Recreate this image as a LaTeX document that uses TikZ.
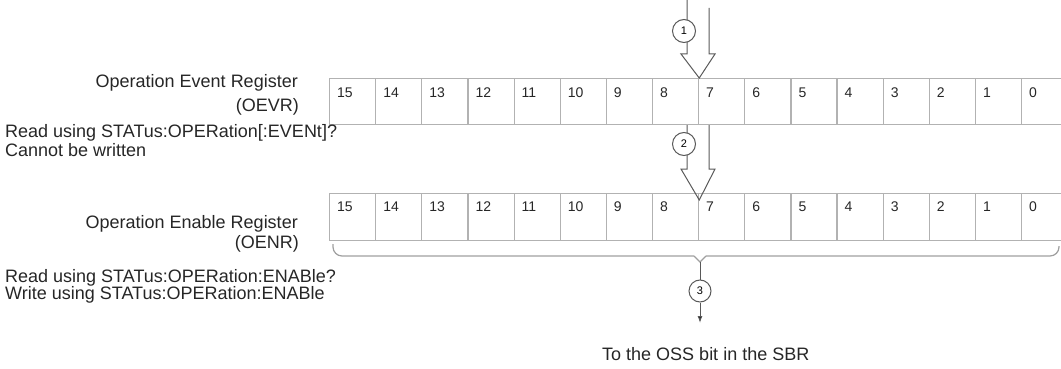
\documentclass[tikz,border=0pt]{standalone}
\usepackage{fontspec}
\setmainfont{Liberation Sans}
\usetikzlibrary{positioning,arrows.meta}

\begin{document}
\begin{tikzpicture}[x=1pt,y=-1pt,
  bitcell/.style={draw=gray!60,line width=1.2pt,minimum width=46.13pt,minimum height=46pt,inner sep=0pt,anchor=north west},
  bitnum/.style={inner sep=0pt,anchor=base west,text=black!85,font=\fontsize{14}{16}\selectfont},
  regtext/.style={inner sep=0pt,text=black!85,font=\fontsize{18}{21}\selectfont},
  hollow/.style={draw=black!65,line width=1pt,line join=miter},
  stepmark/.style={circle,draw=black!65,fill=white,line width=1pt,minimum size=23pt,inner sep=0pt,font=\fontsize{11}{13}\selectfont}]
\useasboundingbox (0,0) rectangle (1061,369);

\foreach \n in {0,...,15}{
  \pgfmathtruncatemacro\bit{15-\n}
  \node[bitcell] (ev\bit) at (329+46.13*\n,78) {};
  \node[bitnum] at ([shift={(8,19)}]ev\bit.north west) {\bit};
  \node[bitcell,minimum height=47pt] (en\bit) at (329+46.13*\n,193) {};
  \node[bitnum] at ([shift={(8,18)}]en\bit.north west) {\bit};
}

\node[regtext,anchor=base east] (evname) at (298,88) {Operation Event Register};
\node[regtext,anchor=base east] (evabbr) at (299,111) {(OEVR)};
\node[regtext,anchor=base west] (evread) at (5,137) {Read using STATus:OPERation[:EVENt]?};
\node[regtext,anchor=base west] (evwrite) at (5,157) {Cannot be written};

\node[regtext,anchor=base east] (enname) at (298,228) {Operation Enable Register};
\node[regtext,anchor=base east] (enabbr) at (299,248) {(OENR)};
\node[regtext,anchor=base west] (enread) at (5,282) {Read using STATus:OPERation:ENABle?};
\node[regtext,anchor=base west] (enwrite) at (5,299) {Write using STATus:OPERation:ENABle};

\draw[hollow] (687,0) -- (687,54) -- (681,54) -- (ev8.north east) -- (715,54) -- (709,54) -- (709,8);
\node[stepmark] (s1) at (684,31) {1};

\draw[hollow] (687,125) -- (687,169) -- (681,169) -- ([yshift=-7pt]en8.north east) -- (715,169) -- (709,169) -- (709,125);
\node[stepmark] (s2) at (684,144) {2};

\coordinate (notch) at (700,262);
\draw[draw=gray!75,line width=1.2pt,rounded corners=9pt] (333,244) |- (694,256);
\draw[draw=gray!75,line width=1.2pt] (694,256) -- (notch) -- (706,256);
\draw[draw=gray!75,line width=1.2pt,rounded corners=9pt] (706,256) -| (1059,246);

\node[stepmark,minimum size=22pt] (s3) at (700,291) {3};
\coordinate (oss) at (700,323);
\path[draw=black!65,line width=1pt] (notch) edge (s3);
\path[draw=black!65,line width=1pt] (s3) edge[-{Latex[length=7pt,width=5pt]}] (oss);
\node[regtext,anchor=base west] (osstext) at (602,360) {To the OSS bit in the SBR};

\end{tikzpicture}
\end{document}
